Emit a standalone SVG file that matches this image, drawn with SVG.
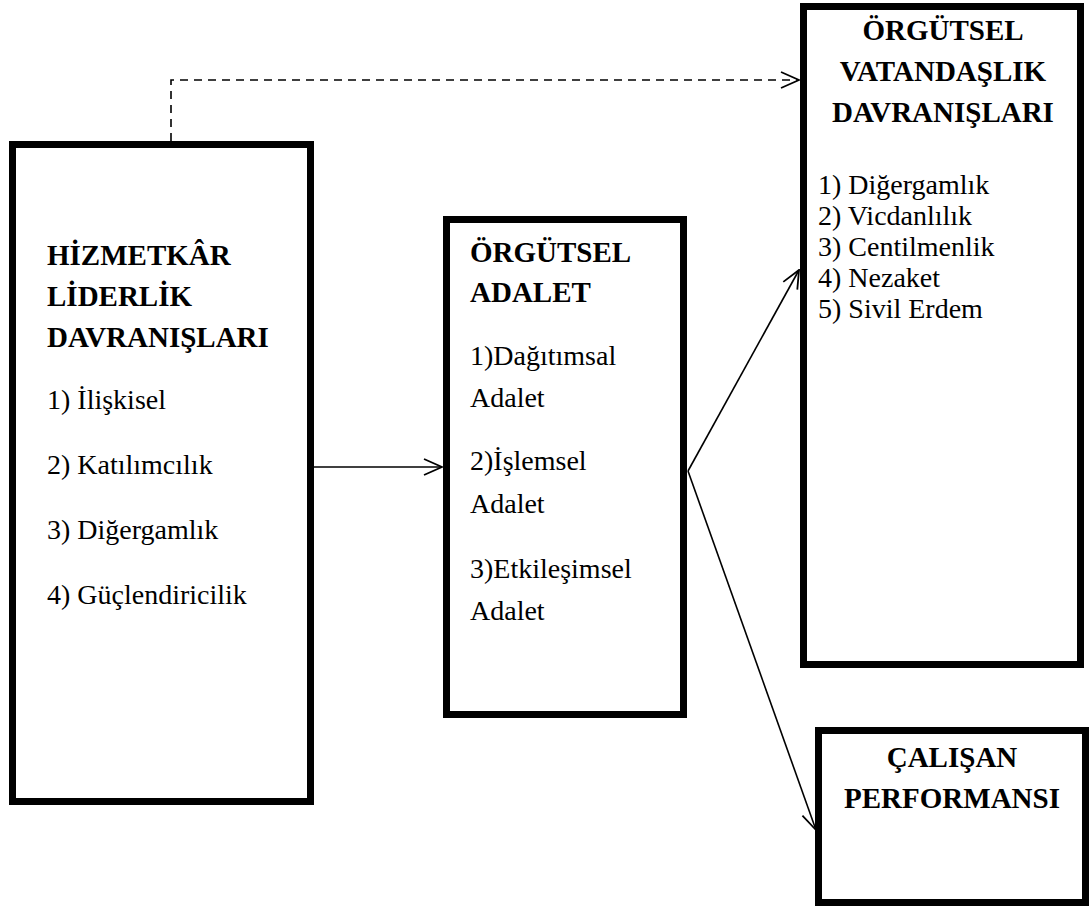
<svg xmlns="http://www.w3.org/2000/svg" width="1090" height="906" viewBox="0 0 1090 906">
<style>
.box{fill:#fff;stroke:#000;stroke-width:7}
text{font-family:'Liberation Serif','Times New Roman','DejaVu Serif',serif;fill:#000}
.b{font-weight:bold;font-size:29px}
.r{font-size:28px}
.c{text-anchor:middle}
.ln{fill:none;stroke:#000;stroke-width:1.6}
.dash{stroke-dasharray:8 6}
</style>
<defs>
<marker id="arr" viewBox="0 0 20 20" refX="19" refY="10" markerWidth="20" markerHeight="20" markerUnits="userSpaceOnUse" orient="auto">
<path d="M1 2 L19 10 L1 18" fill="none" stroke="#000" stroke-width="1.8"/>
</marker>
</defs>
<rect width="1090" height="906" fill="#fff"/>
<g id="connectors">
<path class="ln dash" d="M171 141 V80 H799" marker-end="url(#arr)"/>
<path class="ln" d="M313 467 H442" marker-end="url(#arr)"/>
<path class="ln" d="M688 471 L799 270" marker-end="url(#arr)"/>
<path class="ln" d="M688 471 L816 830" marker-end="url(#arr)"/>
</g>
<g id="hizmetkar">
<rect class="box" x="12.5" y="144.5" width="298" height="657"/>
<text class="b" x="47" y="265">HİZMETKÂR</text>
<text class="b" x="47" y="306">LİDERLİK</text>
<text class="b" x="47" y="347">DAVRANIŞLARI</text>
<text class="r" x="47" y="409">1) İlişkisel</text>
<text class="r" x="47" y="474">2) Katılımcılık</text>
<text class="r" x="47" y="539">3) Diğergamlık</text>
<text class="r" x="47" y="604">4) Güçlendiricilik</text>
</g>
<g id="adalet">
<rect class="box" x="446.5" y="219.5" width="237" height="495"/>
<text class="b" x="470" y="262">ÖRGÜTSEL</text>
<text class="b" x="470" y="302">ADALET</text>
<text class="r" x="470" y="365">1)Dağıtımsal</text>
<text class="r" x="470" y="407">Adalet</text>
<text class="r" x="470" y="470">2)İşlemsel</text>
<text class="r" x="470" y="513">Adalet</text>
<text class="r" x="470" y="578">3)Etkileşimsel</text>
<text class="r" x="470" y="620">Adalet</text>
</g>
<g id="vatandaslik">
<rect class="box" x="803.5" y="6.5" width="277" height="658"/>
<text class="b c" x="943" y="40">ÖRGÜTSEL</text>
<text class="b c" x="943" y="81">VATANDAŞLIK</text>
<text class="b c" x="943" y="122">DAVRANIŞLARI</text>
<text class="r" x="818" y="194">1) Diğergamlık</text>
<text class="r" x="818" y="225">2) Vicdanlılık</text>
<text class="r" x="818" y="256">3) Centilmenlik</text>
<text class="r" x="818" y="287">4) Nezaket</text>
<text class="r" x="818" y="318">5) Sivil Erdem</text>
</g>
<g id="performans">
<rect class="box" x="818.5" y="730.5" width="267" height="172"/>
<text class="b c" x="952" y="767">ÇALIŞAN</text>
<text class="b c" x="952" y="808">PERFORMANSI</text>
</g>
</svg>
